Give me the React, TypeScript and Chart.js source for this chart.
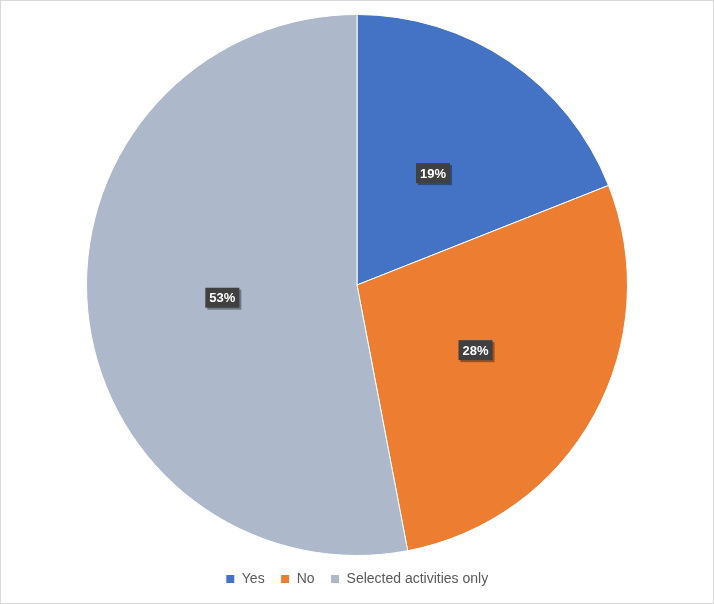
import React, { useEffect, useRef } from "react";
import { Chart, registerables } from "chart.js";

Chart.register(...registerables);

const categories = ["Yes", "No", "Selected activities only"];
const values = [19, 28, 53];
const colors = ["#4472C4", "#ED7D31", "#ADB9CA"];

const labelPlugin = {
  id: "boxLabels",
  afterDatasetsDraw(chart: any) {
    const ctx = chart.ctx;
    const meta = chart.getDatasetMeta(0);
    const total = values.reduce((a, b) => a + b, 0);
    ctx.save();
    ctx.font = "bold 13px 'Liberation Sans', Arial, sans-serif";
    ctx.textAlign = "center";
    ctx.textBaseline = "middle";
    meta.data.forEach((arc: any, i: number) => {
      const p = arc.tooltipPosition();
      const txt = Math.round((values[i] / total) * 100) + "%";
      const w = ctx.measureText(txt).width + 8;
      const h = 20;
      ctx.fillStyle = "rgba(0,0,0,0.35)";
      ctx.fillRect(p.x - w / 2 + 2, p.y - h / 2 + 2, w, h);
      ctx.fillStyle = "#404040";
      ctx.fillRect(p.x - w / 2, p.y - h / 2, w, h);
      ctx.fillStyle = "#ffffff";
      ctx.fillText(txt, p.x, p.y + 1);
    });
    ctx.restore();
  },
};

export default function App() {
  const ref = useRef<HTMLCanvasElement>(null);
  useEffect(() => {
    document.body.style.margin = "0";
    const chart = new Chart(ref.current!, {
      type: "pie",
      data: {
        labels: categories,
        datasets: [
          {
            data: values,
            backgroundColor: colors,
            borderColor: "#ffffff",
            borderWidth: 1,
          },
        ],
      },
      options: {
        animation: false,
        responsive: false,
        layout: { padding: { top: 13, bottom: 7, left: 0, right: 0 } },
        plugins: {
          tooltip: { enabled: false },
          legend: {
            position: "bottom",
            labels: {
              boxWidth: 9,
              boxHeight: 9,
              padding: 16,
              color: "#595959",
              font: { size: 14, family: "'Liberation Sans', Arial, sans-serif" },
            },
          },
        },
      },
      plugins: [labelPlugin],
    });
    return () => chart.destroy();
  }, []);
  return (
    <div
      style={{
        position: "absolute",
        left: 0,
        top: 0,
        width: 714,
        height: 604,
        boxSizing: "border-box",
        border: "1px solid #d9d9d9",
        background: "#fff",
      }}
    >
      <canvas ref={ref} width={712} height={602} style={{ display: "block" }} />
    </div>
  );
}
